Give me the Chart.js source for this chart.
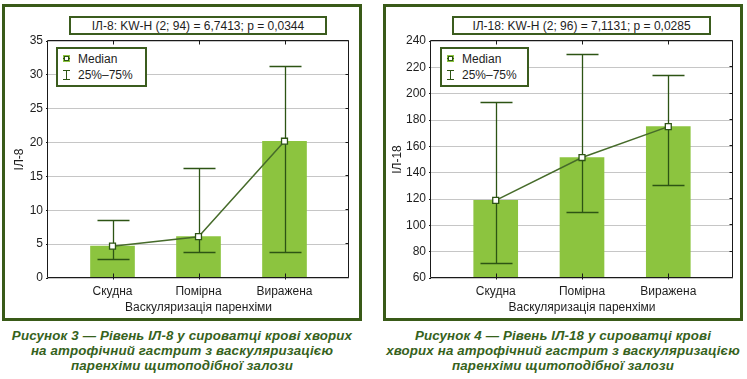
<!DOCTYPE html>
<html><head><meta charset="utf-8">
<script src="https://cdn.jsdelivr.net/npm/chart.js@4.4.1/dist/chart.umd.min.js"></script>
<style>
html,body{margin:0;padding:0;background:#fff;}
body{width:747px;height:379px;position:relative;overflow:hidden;font-family:"Liberation Sans",Arial,sans-serif;color:#1e1e1e;}
.panel{position:absolute;box-sizing:border-box;border:3px solid #395a18;}
.tbox{position:absolute;box-sizing:border-box;border:2px solid #3b5c1e;font-size:12px;line-height:14px;text-align:center;background:#fff;white-space:nowrap;}
.lbox{position:absolute;box-sizing:border-box;border:2px solid #3b5c1e;background:#fff;}
.ltxt{position:absolute;font-size:12px;line-height:14px;white-space:nowrap;}
.sq{position:absolute;width:7px;height:7px;background:#8cc43f;}
.sq:before{content:"";position:absolute;left:0;top:3px;width:7px;height:1px;background:#2d5414;}
.sq:after{content:"";position:absolute;left:1px;top:1px;width:3px;height:3px;border:1px solid #2d5414;background:#fff;}
.ib{position:absolute;width:7px;height:10px;}
.ib:before{content:"";position:absolute;left:3px;top:0;width:1px;height:10px;background:#2d5414;}
.ib:after{content:"";position:absolute;left:0;top:0;width:7px;height:8px;border-top:1px solid #2d5414;border-bottom:1px solid #2d5414;}
.cap{position:absolute;font-weight:bold;font-style:italic;font-size:13.3px;line-height:15px;color:#36621c;text-align:center;white-space:nowrap;letter-spacing:0.15px;}
canvas{position:absolute;}
</style></head>
<body>
<div class="panel" style="left:2px;top:4px;width:360px;height:317px"></div>
<div class="panel" style="left:383px;top:4px;width:360px;height:317px"></div>

<canvas id="c1" style="left:0;top:0;width:358px;height:318px" width="358" height="318"></canvas>
<canvas id="c2" style="left:386px;top:0;width:355px;height:318px" width="355" height="318"></canvas>

<div class="tbox" style="left:69px;top:16px;width:258px;height:19px;padding-top:1px">ІЛ-8: KW-H (2; 94) = 6,7413; p = 0,0344</div>
<div class="tbox" style="left:452px;top:16px;width:259px;height:19px;padding-top:1px">ІЛ-18: KW-H (2; 96) = 7,1131; p = 0,0285</div>

<div class="lbox" style="left:56px;top:47px;width:91px;height:40px"></div>
<div class="sq" style="left:63px;top:55px"></div><div class="ltxt" style="left:78px;top:52px">Median</div>
<div class="ib" style="left:63px;top:70px"></div><div class="ltxt" style="left:78px;top:68px">25%–75%</div>

<div class="lbox" style="left:440px;top:47px;width:89px;height:40px"></div>
<div class="sq" style="left:447px;top:55px"></div><div class="ltxt" style="left:462px;top:52px">Median</div>
<div class="ib" style="left:447px;top:70px"></div><div class="ltxt" style="left:462px;top:68px">25%–75%</div>

<div class="cap" style="left:2px;width:360px;top:328px">Рисунок 3 — Рівень ІЛ-8 у сироватці крові хворих<br>на атрофічний гастрит з васкуляризацією<br>паренхіми щитоподібної залози</div>
<div class="cap" style="left:383px;width:360px;top:328px">Рисунок 4 — Рівень ІЛ-18 у сироватці крові<br>хворих на атрофічний гастрит з васкуляризацією<br>паренхіми щитоподібної залози</div>

<script>
const categories = ['Скудна', 'Помірна', 'Виражена'];
const xTitle = 'Васкуляризація паренхіми';

const il8Median = [4.7, 6.1, 20.2];
const il8Q25 = [2.8, 3.9, 3.9];
const il8Q75 = [8.5, 16.3, 31.3];
const il8Ticks = [0, 5, 10, 15, 20, 25, 30, 35];

const il18Median = [119, 151.5, 175];
const il18Q25 = [71.7, 109.8, 131];
const il18Q75 = [193.6, 230, 214];
const il18Ticks = [60, 80, 100, 120, 140, 160, 180, 200, 220, 240];

const errPlugin = {
  id: 'errbars',
  afterDatasetDraw(chart, args, opts) {
    if (args.index !== 0) return;
    const ctx = chart.ctx, x = chart.scales.x, y = chart.scales.y;
    ctx.save();
    ctx.strokeStyle = '#2d5414';
    ctx.lineWidth = 1.3;
    opts.lo.forEach((lo, i) => {
      const px = Math.round(x.getPixelForValue(i + 1)) + 0.5;
      const y1 = Math.round(y.getPixelForValue(lo)) + 0.5;
      const y2 = Math.round(y.getPixelForValue(opts.hi[i])) + 0.5;
      ctx.beginPath();
      ctx.moveTo(px, y1); ctx.lineTo(px, y2);
      ctx.moveTo(px - 16, y1); ctx.lineTo(px + 16, y1);
      ctx.moveTo(px - 16, y2); ctx.lineTo(px + 16, y2);
      ctx.stroke();
    });
    ctx.restore();
  }
};

const framePlugin = {
  id: 'frame',
  afterDatasetsDraw(chart) {
    const ctx = chart.ctx, a = chart.chartArea, x = chart.scales.x, y = chart.scales.y;
    const L = Math.round(a.left) - 0.5, R = Math.round(a.right) - 0.5;
    const T = Math.round(a.top) - 0.5, B = Math.round(a.bottom) - 0.5;
    ctx.save();
    ctx.strokeStyle = '#1a1a1a';
    ctx.lineWidth = 1;
    ctx.beginPath();
    ctx.rect(L, T, R - L, B - T);
    y.ticks.forEach(t => {
      const py = Math.round(y.getPixelForValue(t.value)) - 0.5;
      ctx.moveTo(R, py); ctx.lineTo(R - 3, py);
    });
    x.ticks.forEach(t => {
      const px = Math.round(x.getPixelForValue(t.value)) + 0.5;
      ctx.moveTo(px, B); ctx.lineTo(px, B - 4);
      ctx.moveTo(px, B); ctx.lineTo(px, B + 2);
      ctx.moveTo(px, T); ctx.lineTo(px, T + 4);
    });
    ctx.stroke();
    ctx.restore();
  }
};

function makeChart(id, med, lo, hi, yTicks, yTitle, g) {
  const pts = categories.map((c, i) => ({ x: i + 1, y: med[i] }));
  return new Chart(document.getElementById(id), {
    type: 'bar',
    data: {
      datasets: [
        { type: 'bar', data: pts, backgroundColor: '#8cc43f', barThickness: 44, order: 2 },
        { type: 'line', data: pts, borderColor: '#466b2a', borderWidth: 1.5,
          pointStyle: 'rect', pointRadius: 4.2, pointBorderWidth: 1.3,
          pointBackgroundColor: '#ffffff', pointBorderColor: '#2d5414', order: 1 }
      ]
    },
    plugins: [errPlugin, framePlugin],
    options: {
      responsive: false, animation: false,
      layout: { padding: { left: 0, top: 41, right: g.padRight, bottom: g.padBottom } },
      plugins: {
        legend: { display: false }, tooltip: { enabled: false },
        errbars: { lo: lo, hi: hi }
      },
      scales: {
        x: {
          type: 'linear', min: 0.25, max: 3.75, offset: false,
          afterBuildTicks: s => { s.ticks = categories.map((c, i) => ({ value: i + 1 })); },
          afterFit: s => { s.height = 38; },
          grid: { display: false, drawTicks: false },
          border: { display: false },
          ticks: { callback: v => categories[v - 1], color: '#1e1e1e', padding: g.xTickPad,
                   font: { family: 'Liberation Sans', size: 12 }, maxRotation: 0, autoSkip: false },
          title: { display: true, text: xTitle, color: '#1e1e1e', padding: { top: 0, bottom: g.xTitlePad },
                   font: { family: 'Liberation Sans', size: 12 } }
        },
        y: {
          min: yTicks[0], max: yTicks[yTicks.length - 1],
          afterBuildTicks: s => { s.ticks = yTicks.map(v => ({ value: v })); },
          afterFit: s => { s.width = g.yWidth; },
          grid: { color: '#c6c6c6', lineWidth: 1, drawTicks: true, tickLength: 2, tickColor: '#1a1a1a' },
          border: { display: false },
          ticks: { color: '#1e1e1e', padding: 3, font: { family: 'Liberation Sans', size: 12 } },
          title: { display: true, text: yTitle, color: '#1e1e1e', padding: { top: g.yTitlePad, bottom: 0 },
                   font: { family: 'Liberation Sans', size: 12 } }
        }
      }
    }
  });
}

makeChart('c1', il8Median, il8Q25, il8Q75, il8Ticks, 'ІЛ-8',
  { yWidth: 48, yTitlePad: 12, padRight: 9, padBottom: 2, xTickPad: 6, xTitlePad: 1 });
makeChart('c2', il18Median, il18Q25, il18Q75, il18Ticks, 'ІЛ-18',
  { yWidth: 45, yTitlePad: 4, padRight: 8, padBottom: 2, xTickPad: 6, xTitlePad: 1 });
</script>
</body></html>
